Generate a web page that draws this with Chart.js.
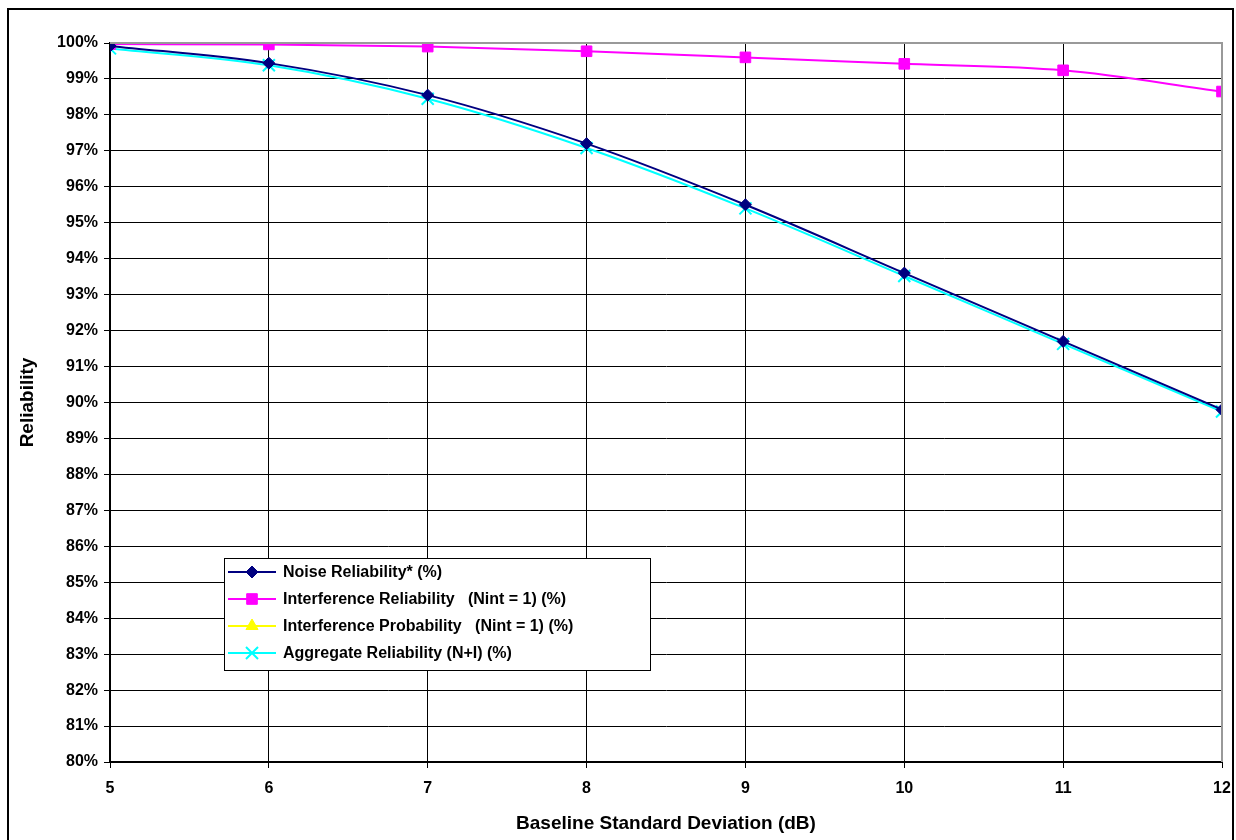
<!DOCTYPE html>
<html>
<head>
<meta charset="utf-8">
<script src="https://cdn.jsdelivr.net/npm/chart.js@4/dist/chart.umd.min.js"></script>
<style>
  html, body { margin: 0; padding: 0; background: #fff; }
  #wrap { width: 1236px; height: 840px; position: relative; }
</style>
</head>
<body>
<div id="wrap"><canvas id="relChart" width="1236" height="840"></canvas></div>
<script>
// valores
const stdDev = [5, 6, 7, 8, 9, 10, 11, 12];
const noiseRel = [99.92, 99.44, 98.55, 97.2, 95.5, 93.6, 91.7, 89.8];
const interfRel = [99.97, 99.96, 99.9, 99.77, 99.6, 99.42, 99.24, 98.65];
const interfProb = [0.03, 0.04, 0.1, 0.23, 0.4, 0.58, 0.76, 1.35];
const aggregateRel = [99.85, 99.38, 98.45, 97.08, 95.4, 93.52, 91.63, 89.75];
const yTicks = [80, 81, 82, 83, 84, 85, 86, 87, 88, 89, 90, 91, 92, 93, 94, 95, 96, 97, 98, 99, 100];

const FONT = 'Arial, "Liberation Sans", sans-serif';

const toPoints = (vals) => vals.map((v, i) => ({ x: stdDev[i], y: v }));

// borde exterior y borde gris del area de trazado
const framePlugin = {
    id: 'frame',
    beforeDraw(chart) {
        const ctx = chart.ctx;
        ctx.save();
        ctx.fillStyle = '#fff';
        ctx.fillRect(0, 0, chart.width, chart.height);
        ctx.strokeStyle = '#000';
        ctx.lineWidth = 2;
        ctx.strokeRect(8, 9, 1225, 840);
        ctx.restore();
    },
    afterDatasetsDraw(chart) {
        const { left, top, right, bottom } = chart.chartArea;
        const ctx = chart.ctx;
        ctx.save();
        ctx.strokeStyle = '#999';
        ctx.lineWidth = 2;
        ctx.beginPath();
        ctx.moveTo(left, top);
        ctx.lineTo(right, top);
        ctx.lineTo(right, bottom);
        ctx.stroke();
        ctx.restore();
    }
};

// leyenda dentro del area de trazado
const boxLegend = {
    id: 'boxLegend',
    afterDraw(chart) {
        const ctx = chart.ctx;
        const x0 = 224, y0 = 558, w = 426, h = 112;
        ctx.save();
        ctx.fillStyle = '#fff';
        ctx.fillRect(x0, y0, w, h);
        ctx.strokeStyle = '#000';
        ctx.lineWidth = 1;
        ctx.strokeRect(x0 + 0.5, y0 + 0.5, w, h);
        ctx.font = 'bold 16px ' + FONT;
        ctx.textBaseline = 'middle';
        chart.data.datasets.forEach((ds, i) => {
            const y = y0 + 14 + i * 27;
            ctx.strokeStyle = ds.borderColor;
            ctx.lineWidth = 2;
            ctx.beginPath();
            ctx.moveTo(x0 + 4, y);
            ctx.lineTo(x0 + 52, y);
            ctx.stroke();
            ctx.fillStyle = ds.borderColor;
            ctx.lineWidth = ds.pointBorderWidth;
            Chart.helpers.drawPoint(ctx, {
                pointStyle: ds.pointStyle,
                radius: ds.pointRadius,
                borderWidth: ds.pointBorderWidth
            }, x0 + 28, y);
            ctx.fillStyle = '#000';
            ctx.fillText(ds.label, x0 + 59, y + 1);
        });
        ctx.restore();
    }
};

const makeSet = (label, vals, color, style, radius, bw) => ({
    label: label,
    data: toPoints(vals),
    borderColor: color,
    backgroundColor: color,
    pointBackgroundColor: color,
    pointBorderColor: color,
    borderWidth: 2,
    pointStyle: style,
    pointRadius: radius,
    pointBorderWidth: bw,
    cubicInterpolationMode: 'monotone',
});

const datasets = [
    makeSet('Noise Reliability* (%)', noiseRel, '#000080', 'rectRot', 6, 1),
    makeSet('Interference Reliability   (Nint = 1) (%)', interfRel, '#FF00FF', 'rect', 7.5, 1),
    makeSet('Interference Probability   (Nint = 1) (%)', interfProb, '#FFFF00', 'triangle', 7, 1),
    makeSet('Aggregate Reliability (N+I) (%)', aggregateRel, '#00FFFF', 'crossRot', 8.5, 2),
];

new Chart(document.getElementById('relChart'), {
    type: 'line',
    data: { datasets: datasets },
    plugins: [framePlugin, boxLegend],
    options: {
        responsive: false,
        animation: false,
        layout: { padding: { left: 10, top: 43, right: 14, bottom: 0 } },
        plugins: {
            legend: { display: false },
            tooltip: { enabled: false },
        },
        scales: {
            x: {
                type: 'linear',
                min: 5,
                max: 12,
                afterFit: (s) => { s.height = 78; s.paddingLeft = 0; s.paddingRight = 0; },
                afterBuildTicks: (s) => { s.ticks = stdDev.map(v => ({ value: v })); },
                ticks: {
                    color: '#000',
                    font: { family: FONT, size: 16, weight: 'bold' },
                    padding: 11,
                    maxRotation: 0,
                },
                grid: { color: '#000', lineWidth: 1, tickLength: 6 },
                border: { color: '#000', width: 2 },
                title: {
                    display: true,
                    text: 'Baseline Standard Deviation (dB)',
                    color: '#000',
                    font: { family: FONT, size: 19, weight: 'bold' },
                    padding: { top: 4, bottom: 5 },
                },
            },
            y: {
                type: 'linear',
                min: 80,
                max: 100,
                afterFit: (s) => { s.width = 100; },
                afterBuildTicks: (s) => { s.ticks = yTicks.map(v => ({ value: v })); },
                ticks: {
                    color: '#000',
                    font: { family: FONT, size: 16, weight: 'bold' },
                    padding: 6,
                    callback: (v) => v + '%',
                },
                grid: { color: '#000', lineWidth: 1, tickLength: 6 },
                border: { color: '#000', width: 2 },
                title: {
                    display: true,
                    text: 'Reliability',
                    color: '#000',
                    font: { family: FONT, size: 19, weight: 'bold' },
                    padding: { top: 6, bottom: 0 },
                },
            },
        },
    },
});
</script>
</body>
</html>
